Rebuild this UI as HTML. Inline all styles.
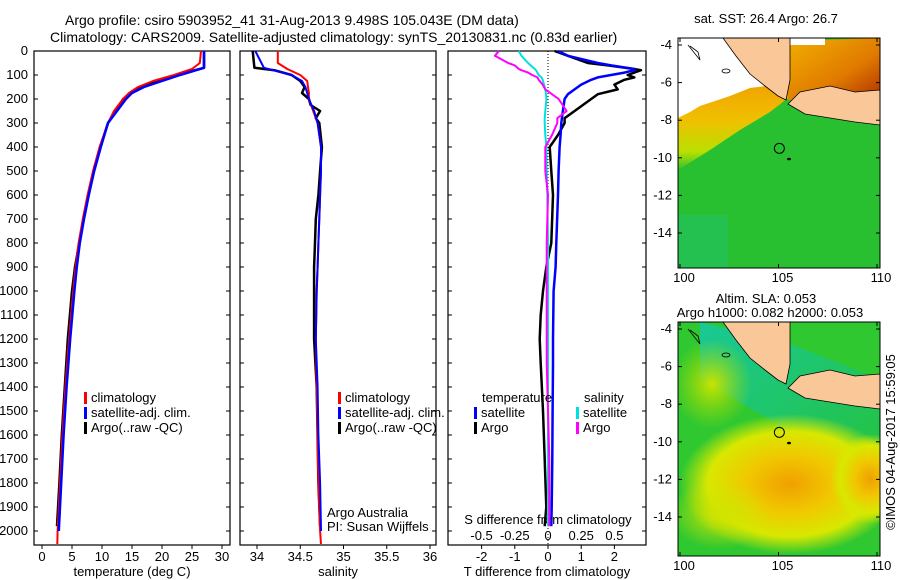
<!DOCTYPE html>
<html><head><meta charset="utf-8"><style>
body{margin:0;background:#fff;}
svg{display:block;font-family:"Liberation Sans",sans-serif;}
</style></head><body>
<svg id="fig" width="900" height="580" viewBox="0 0 900 580">
<g font-size="14" fill="#000">
<text x="65" y="25">Argo profile: csiro 5903952_41 31-Aug-2013 9.498S 105.043E (DM data)</text>
<text x="50" y="42">Climatology: CARS2009. Satellite-adjusted climatology: synTS_20130831.nc (0.83d earlier)</text>
</g>
<defs>
<linearGradient id="gOr" x1="0" y1="0" x2="0" y2="1"><stop offset="0" stop-color="#f0a000"/><stop offset="0.45" stop-color="#f0c000"/><stop offset="0.8" stop-color="#b8e000"/><stop offset="1" stop-color="#30c030"/></linearGradient>
<linearGradient id="gBr" x1="0" y1="0" x2="1" y2="1"><stop offset="0" stop-color="#f2b000"/><stop offset="0.6" stop-color="#e07a00"/><stop offset="1" stop-color="#b03000"/></linearGradient>
<linearGradient id="gTeal" x1="0" y1="0" x2="1" y2="1"><stop offset="0" stop-color="#10c8c0"/><stop offset="1" stop-color="#20c040"/></linearGradient>
<radialGradient id="gBlob" cx="0.5" cy="0.5" r="0.5"><stop offset="0" stop-color="#f0a000"/><stop offset="0.4" stop-color="#f0c800"/><stop offset="0.75" stop-color="#d8e800"/><stop offset="1" stop-color="#d8e800" stop-opacity="0"/></radialGradient>
<radialGradient id="gBlob2" cx="0.5" cy="0.5" r="0.5"><stop offset="0" stop-color="#c8e400"/><stop offset="1" stop-color="#a8dc00" stop-opacity="0"/></radialGradient>
<radialGradient id="gBlob3" cx="0.5" cy="0.5" r="0.5"><stop offset="0" stop-color="#d0e400"/><stop offset="1" stop-color="#d0e400" stop-opacity="0"/></radialGradient>
</defs>
<g id="maps"></g>
<g id="plots"></g>
</svg>
<script>
// ---- data ----
const tDepth = [0,50,75,100,125,150,175,200,250,300,400,500,600,700,800,900,1000,1200,1400,1600,1800,2000,2054];
const tClim  = [26.5,26.3,25,22,18.5,16,14.5,13.5,12,11,9.6,8.5,7.6,6.8,6.1,5.6,5.2,4.5,3.9,3.4,3.0,2.6,2.55];
const tSatDepth = [0,70,100,125,150,175,200,250,300,400,500,600,700,800,900,1000,1200,1400,1600,1800,2000];
const tSat   = [27,27,23,20,17,15,14,12.5,11,9.8,8.7,7.8,7.0,6.3,5.8,5.4,4.7,4.1,3.6,3.2,2.8];
const argoDepth = [0,70,80,100,125,150,175,200,225,250,280,300,400,500,600,700,800,900,1000,1200,1400,1600,1800,1980];
const tArgo  = [27,27,25.5,22.5,19,16.5,15,13.5,13,12.2,11.5,11,9.7,8.6,7.7,6.9,6.2,5.5,5.0,4.3,3.8,3.3,2.9,2.5];
const sClim  = [34.24,34.24,34.35,34.5,34.58,34.59,34.6,34.6,34.65,34.7,34.74,34.74,34.73,34.72,34.71,34.7,34.69,34.68,34.69,34.7,34.71,34.73,34.74];
const sSat   = [33.98,34.08,34.4,34.52,34.56,34.58,34.6,34.66,34.7,34.74,34.74,34.73,34.72,34.71,34.7,34.69,34.68,34.7,34.71,34.73,34.74];
const sArgo  = [33.95,33.97,34.2,34.4,34.5,34.55,34.52,34.6,34.62,34.73,34.68,34.72,34.75,34.73,34.71,34.68,34.67,34.66,34.66,34.66,34.69,34.7,34.71,34.73];
const dDepth = [0,20,50,60,75,80,90,100,110,120,140,160,180,200,250,280,300,350,400,500,600,800,900,1000,1100,1200,1300,1500,1700,1900,1980];
const dTSat  = [0.3,0.6,1.5,1.9,2.6,2.6,2.3,1.9,1.5,1.3,1.0,0.8,0.6,0.5,0.45,0.42,0.4,0.38,0.35,0.32,0.3,0.25,0.23,0.17,0.16,0.15,0.15,0.14,0.13,0.11,0.1];
const dTArgo = [0.2,0.6,1.2,1.8,2.6,2.8,2.6,2.4,2.6,2.3,2.0,2.1,1.5,1.3,0.8,0.5,0.5,0.3,0.05,0.1,0.15,0.1,-0.05,-0.15,-0.22,-0.25,-0.22,-0.15,-0.1,-0.05,-0.1];
const dSSat  = [-0.22,-0.2,-0.15,-0.13,-0.1,-0.09,-0.08,-0.07,-0.05,-0.04,-0.03,-0.02,-0.015,-0.012,-0.02,-0.025,-0.025,-0.02,-0.012,-0.01,-0.005,0,0,0,0,0,0,0,0,0,0];
const dSArgo = [-0.37,-0.4,-0.3,-0.25,-0.22,-0.2,-0.15,-0.12,-0.08,-0.07,-0.04,-0.02,0.03,0.08,0.14,0.07,0.07,0.03,-0.02,-0.02,0,-0.01,-0.01,-0.01,-0.01,-0.01,-0.01,0,0.01,0.01,0.01];
const depthTicks = [0,100,200,300,400,500,600,700,800,900,1000,1100,1200,1300,1400,1500,1600,1700,1800,1900,2000];
const tTicks = [0,5,10,15,20,25,30];
const sTicks = [34,34.5,35,35.5,36];
const dTicks = [-2,-1,0,1,2];
const dSTicks = [-0.5,-0.25,0,0.25,0.5];
const dSTickLabels = ["-0.5","-0.25","0","0.25","0.5"];
const latTicks = [-4,-6,-8,-10,-12,-14];
const lonTicks = [100,105,110];

const NS='http://www.w3.org/2000/svg';
const fig=document.getElementById('plots');
function mk(tag,attrs,parent){const e=document.createElementNS(NS,tag);for(const k in attrs)e.setAttribute(k,attrs[k]);(parent||fig).appendChild(e);return e;}
const pTop=51, pBot=545;
const yD = d => pTop + d*0.24;
const xT = v => 42 + v*6;
const xS = v => 257 + (v-34)*86.5;
const xDT = v => 548 + v*33.2;
const xDS = v => 548 + v*132.8;
const FS=13;

function panel(name,x0,x1,ticks,xf,labels,title){
  const g=mk('g',{});
  
  
  const r=mk('rect',{x:x0,y:pTop,width:x1-x0,height:pBot-pTop,fill:'none',stroke:'#000','stroke-width':1.2},g);
  
  
  depthTicks.forEach(d=>{
    mk('line',{x1:x0,x2:x0+4,y1:yD(d),y2:yD(d),stroke:'#000'},g);
    mk('line',{x1:x1-4,x2:x1,y1:yD(d),y2:yD(d),stroke:'#000'},g);
  });
  ticks.forEach((v,i)=>{
    mk('line',{x1:xf(v),x2:xf(v),y1:pBot,y2:pBot+4,stroke:'#000'},g);
    const t=mk('text',{x:xf(v),y:561,'text-anchor':'middle','font-size':FS},g);
    t.textContent=labels?labels[i]:String(v);
    
    
  });
  const tt=mk('text',{x:(x0+x1)/2,y:576,'text-anchor':'middle','font-size':FS},g);
  tt.textContent=title;
  
  
  return g;
}
function line(name,depths,vals,xf,color,w,g){
  const p=mk('polyline',{points:vals.map((v,i)=>xf(v).toFixed(1)+','+yD(depths[i]).toFixed(1)).join(' '),fill:'none',stroke:color,'stroke-width':w,'stroke-linejoin':'round'},g);
  
  
}
function legend(g,x,y,items){
  items.forEach((it,i)=>{
    if(it[1]) mk('rect',{x:x,y:y+i*15-10,width:3,height:12,fill:it[1]},g);
    const t=mk('text',{x:x+(it[1]?7:0),y:y+i*15,'font-size':FS},g);
    t.textContent=it[0];
    
    
  });
}
depthTicks.forEach(d=>{
  const t=mk('text',{x:28,y:yD(d)+4,'text-anchor':'end','font-size':FS});
  t.textContent=d;
  
  
});
const g1=panel('temperature-panel',34,230,tTicks,xT,null,'temperature (deg C)');
line('temp-argo',argoDepth,tArgo,xT,'#000',2.5,g1);
line('temp-climatology',tDepth,tClim,xT,'#ff0000',2,g1);
line('temp-satellite',tSatDepth,tSat,xT,'#0000ff',2.5,g1);
legend(g1,84,402,[['climatology','#ff0000'],['satellite-adj. clim.','#0000ff'],['Argo(..raw -QC)','#000']]);
const g2=panel('salinity-panel',240,436,sTicks,xS,null,'salinity');
line('sal-argo',argoDepth,sArgo,xS,'#000',2.5,g2);
line('sal-climatology',tDepth,sClim,xS,'#ff0000',2,g2);
line('sal-satellite',tSatDepth,sSat,xS,'#0000ff',2,g2);
legend(g2,338,402,[['climatology','#ff0000'],['satellite-adj. clim.','#0000ff'],['Argo(..raw -QC)','#000']]);
const a1=mk('text',{x:327,y:517,'font-size':FS},g2);a1.textContent='Argo Australia';

const a2=mk('text',{x:327,y:531,'font-size':FS},g2);a2.textContent='PI: Susan Wijffels';

const g3=panel('difference-panel',448,646,dTicks,xDT,null,'T difference from climatology');
mk('line',{x1:548,x2:548,y1:pTop,y2:pBot,stroke:'#000','stroke-dasharray':'1,2'},g3);
dSTicks.forEach((v,i)=>{
  const t=mk('text',{x:xDS(v),y:540,'text-anchor':'middle','font-size':FS},g3);
  t.textContent=dSTickLabels[i];
  
  
});
const sdt=mk('text',{x:548,y:524,'text-anchor':'middle','font-size':FS},g3);sdt.textContent='S difference from climatology';

line('tdiff-argo',dDepth,dTArgo,xDT,'#000',2.5,g3);
line('tdiff-satellite',dDepth,dTSat,xDT,'#0000ff',2.5,g3);
line('sdiff-satellite',dDepth,dSSat,xDS,'#00e0e0',2,g3);
line('sdiff-argo',dDepth,dSArgo,xDS,'#ff00ff',2,g3);
legend(g3,482,402,[['temperature',null]]);
legend(g3,474,417,[['satellite','#0000ff'],['Argo','#000']]);
legend(g3,584,402,[['salinity',null]]);
legend(g3,576,417,[['satellite','#00e0e0'],['Argo','#ff00ff']]);

const M=document.getElementById('maps');
function mapPanel(name,y0,y1,off,kind){
  const g=mk('g',{},M);
  
  
  const xL=lon=>680+(lon-100)*19.7, yL=lat=>45+off+(-4-lat)*18.8;
  const cp='clip'+off;
  const c=mk('clipPath',{id:cp},g);mk('rect',{x:678,y:y0,width:202,height:y1-y0},c);
  const inner=mk('g',{'clip-path':'url(#'+cp+')'},g);
  const P=pts=>pts.map(p=>p[0]+','+(p[1]+off)).join(' ');
  if(kind==='sst'){
    mk('rect',{x:678,y:y0,width:202,height:y1-y0,fill:'#28c030'},inner);
    mk('rect',{x:678,y:215,width:50,height:60,fill:'#20c070',opacity:0.5},inner);
    mk('polygon',{points:P([[678,112],[700,104],[750,86],[790,80],[792,95],[770,112],[740,130],[710,150],[678,170]]),fill:'url(#gOr)'},inner);
    mk('polygon',{points:P([[678,38],[725,38],[750,60],[785,72],[782,84],[750,88],[730,96],[712,102],[700,106],[690,112],[678,118]]),fill:'#fff'},inner);
    mk('polygon',{points:P([[788,100],[788,45],[820,40],[880,38],[880,98]]),fill:'url(#gBr)'},inner);
    mk('rect',{x:790,y:38,width:35,height:7,fill:'#fff'},inner);
  } else {
    mk('rect',{x:678,y:y0,width:202,height:y1-y0,fill:'#30c830'},inner);
    mk('polygon',{points:P([[700,38],[790,60],[880,95],[880,200],[830,170],[760,130],[700,95]]),fill:'url(#gTeal)',opacity:0.7},inner);
    mk('ellipse',{cx:712,cy:100+off,rx:40,ry:45,fill:'url(#gBlob2)'},inner);
    mk('ellipse',{cx:790,cy:200+off,rx:110,ry:70,fill:'url(#gBlob)'},inner);
    mk('ellipse',{cx:870,cy:195+off,rx:40,ry:45,fill:'url(#gBlob)'},inner);
    mk('ellipse',{cx:720,cy:230+off,rx:50,ry:35,fill:'url(#gBlob3)'},inner);
  }
  mk('polygon',{points:P([[723,38],[790,38],[790,80],[786,100],[778,96],[765,86],[750,74],[736,56]]),fill:'#fac898',stroke:'#000','stroke-width':0.8},inner);
  mk('polygon',{points:P([[788,104],[800,92],[830,86],[855,92],[880,90],[880,125],[855,122],[830,118],[805,114]]),fill:'#fac898',stroke:'#000','stroke-width':0.8},inner);
  mk('polyline',{points:P([[688,45],[700,60],[698,52],[690,46]]),fill:'none',stroke:'#000','stroke-width':0.8},inner);
  mk('ellipse',{cx:726,cy:71+off,rx:4,ry:2,fill:'none',stroke:'#000','stroke-width':0.8},inner);
  mk('ellipse',{cx:789,cy:159+off,rx:2,ry:1.3,fill:'#000'},inner);
  const cir=mk('circle',{cx:xL(105.043),cy:yL(-9.498),r:5,fill:'none',stroke:'#000','stroke-width':1},inner);
  
  
  mk('rect',{x:678,y:y0,width:202,height:y1-y0,fill:'none',stroke:'#000','stroke-width':1},g);
  latTicks.forEach(l=>{
    mk('line',{x1:678,x2:682,y1:yL(l),y2:yL(l),stroke:'#000'},g);
    mk('line',{x1:876,x2:880,y1:yL(l),y2:yL(l),stroke:'#000'},g);
    const t=mk('text',{x:672,y:yL(l)+4,'text-anchor':'end','font-size':FS},g);t.textContent=l;
    
  });
  lonTicks.forEach(l=>{
    mk('line',{x1:xL(l),x2:xL(l),y1:y1,y2:y1-4,stroke:'#000'},g);
    mk('line',{x1:xL(l),x2:xL(l),y1:y0,y2:y0+4,stroke:'#000'},g);
    const t=mk('text',{x:xL(l)+4,y:y1+14,'text-anchor':'middle','font-size':FS},g);t.textContent=l;
    
  });
}
mapPanel('sst-map',38,268,0,'sst');
mapPanel('sla-map',322,556,284,'sla');
[['sat. SST: 26.4 Argo: 26.7',766,23],['Altim. SLA: 0.053',766,303],['Argo h1000: 0.082 h2000: 0.053',770,317]].forEach(a=>{
  const t=mk('text',{x:a[1],y:a[2],'text-anchor':'middle','font-size':FS},M);t.textContent=a[0];
  
});
const im=mk('text',{x:0,y:0,'text-anchor':'middle','font-size':FS,transform:'translate(895,442) rotate(-90)'},M);
im.textContent='©IMOS 04-Aug-2017 15:59:05';

</script>
</body></html>
